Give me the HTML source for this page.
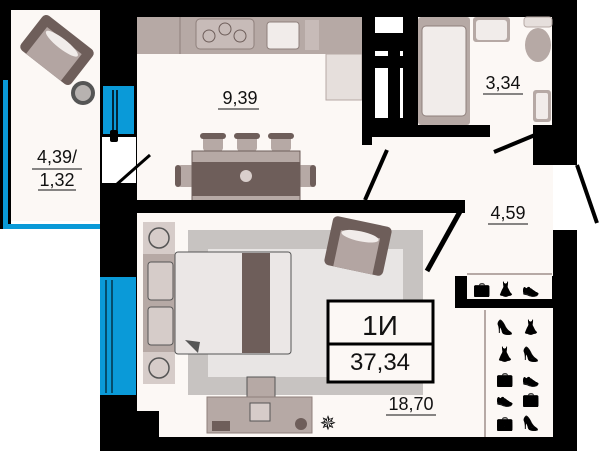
<!DOCTYPE html>
<html><head><meta charset="utf-8"><style>
html,body{margin:0;padding:0;background:#fff;}
svg{display:block}
text{font-family:"Liberation Sans",sans-serif;fill:#111}
.ic{filter:grayscale(1) brightness(0.35) contrast(2);}
</style></head><body>
<svg width="600" height="451" viewBox="0 0 600 451" xmlns="http://www.w3.org/2000/svg">
<rect width="600" height="451" fill="#fff"/>
<rect x="11" y="10" width="89" height="211" fill="#fcf8f5"/>
<rect x="137" y="17" width="416" height="420" fill="#fcf8f5"/>
<rect x="0" y="0" width="11" height="229" fill="#000"/>
<rect x="0" y="0" width="137" height="10" fill="#000"/>
<rect x="3" y="80" width="5" height="149" fill="#0a9ad8"/>
<rect x="3" y="224" width="100" height="5" fill="#0a9ad8"/>
<rect x="100" y="0" width="37" height="230" fill="#000"/>
<rect x="103" y="86" width="31" height="48" fill="#0a9ad8"/>
<line x1="113" y1="90" x2="113" y2="134" stroke="#000" stroke-width="1.5"/>
<line x1="117" y1="90" x2="117" y2="134" stroke="#000" stroke-width="1.5"/>
<rect x="102" y="137" width="34" height="46" fill="#fff"/>
<rect x="110" y="130" width="8" height="12" rx="2" fill="#000"/>
<line x1="116" y1="185" x2="150" y2="155" stroke="#000" stroke-width="3"/>
<g transform="translate(57,50) rotate(38)">
<rect x="-32" y="-22" width="64" height="44" rx="5" fill="#6e5e5a"/>
<rect x="-22" y="-12" width="44" height="34" fill="#b3a5a2"/>
<ellipse cx="0" cy="-8" rx="20" ry="5" fill="#f1ecea"/>
</g>
<circle cx="83" cy="93" r="12" fill="#555"/><circle cx="83" cy="93" r="8" fill="#b7b2b0"/>
<text x="57" y="163" font-size="18" text-anchor="middle">4,39/</text>
<line x1="32" y1="169" x2="82" y2="169" stroke="#111"/>
<text x="57" y="186" font-size="18" text-anchor="middle">1,32</text>
<line x1="38" y1="190" x2="76" y2="190" stroke="#111"/>
<rect x="137" y="0" width="440" height="17" fill="#000"/>
<rect x="552" y="0" width="25" height="165" fill="#000"/>
<rect x="137" y="17" width="225" height="37" fill="#b6a9a5"/>
<line x1="180" y1="17" x2="180" y2="54" stroke="#8f807c"/>
<rect x="196" y="19" width="58" height="30" rx="4" fill="#c7bbb8" stroke="#8f807c"/>
<circle cx="209" cy="36" r="6" fill="none" stroke="#6e5e5a"/><circle cx="225" cy="29" r="6" fill="none" stroke="#6e5e5a"/><circle cx="240" cy="36" r="6" fill="none" stroke="#6e5e5a"/>
<rect x="267" y="22" width="32" height="27" rx="3" fill="#f1ecea" stroke="#8f807c"/>
<rect x="305" y="20" width="14" height="30" fill="#c7bbb8"/>
<rect x="326" y="54" width="36" height="46" fill="#e6dfdc" stroke="#b6a9a5"/>
<rect x="203" y="135" width="20" height="16" rx="3" fill="#b6a9a5"/><rect x="200" y="133" width="26" height="6" rx="3" fill="#6e5e5a"/>
<rect x="237" y="135" width="20" height="16" rx="3" fill="#b6a9a5"/><rect x="234" y="133" width="26" height="6" rx="3" fill="#6e5e5a"/>
<rect x="271" y="135" width="20" height="16" rx="3" fill="#b6a9a5"/><rect x="268" y="133" width="26" height="6" rx="3" fill="#6e5e5a"/>
<rect x="178" y="165" width="16" height="22" rx="3" fill="#b6a9a5"/><rect x="175" y="165" width="6" height="22" rx="3" fill="#6e5e5a"/>
<rect x="298" y="165" width="16" height="22" rx="3" fill="#b6a9a5"/><rect x="310" y="165" width="6" height="22" rx="3" fill="#6e5e5a"/>
<rect x="192" y="151" width="108" height="50" fill="#b6a9a5" stroke="#6e5e5a"/>
<rect x="192" y="162" width="108" height="34" fill="#6e5e5a"/>
<circle cx="246" cy="176" r="6" fill="#d9cfcc"/>
<text x="240" y="104" font-size="18" text-anchor="middle">9,39</text>
<line x1="218" y1="109" x2="259" y2="109" stroke="#111"/>
<rect x="100" y="200" width="365" height="13" fill="#000"/>
<line x1="365" y1="200" x2="387" y2="150" stroke="#000" stroke-width="4"/>
<rect x="362" y="17" width="10" height="128" fill="#000"/>
<rect x="372" y="17" width="34" height="120" fill="#000"/>
<rect x="375" y="17" width="28" height="16" fill="#fff"/>
<rect x="375" y="51" width="13" height="5" fill="#fff"/><rect x="400" y="51" width="3" height="5" fill="#fff"/>
<rect x="375" y="68" width="13" height="50" fill="#fff"/><rect x="400" y="68" width="3" height="50" fill="#fff"/>
<rect x="406" y="17" width="12" height="120" fill="#000"/>
<rect x="362" y="125" width="128" height="12" fill="#000"/>
<rect x="533" y="125" width="20" height="40" fill="#000"/>
<line x1="494" y1="152" x2="535" y2="135" stroke="#000" stroke-width="4"/>
<line x1="577" y1="165" x2="597" y2="223" stroke="#000" stroke-width="4"/>
<rect x="418" y="17" width="52" height="108" rx="3" fill="#b6a9a5"/>
<rect x="422" y="26" width="44" height="90" rx="4" fill="#f1ecea" stroke="#8f807c"/>
<rect x="473" y="17" width="37" height="25" rx="3" fill="#b6a9a5"/><rect x="476" y="20" width="31" height="20" rx="3" fill="#f1ecea"/>
<rect x="524" y="17" width="28" height="10" rx="3" fill="#e6dfdc" stroke="#b6a9a5"/>
<ellipse cx="538" cy="45" rx="13" ry="17" fill="#b6a9a5"/>
<rect x="533" y="90" width="18" height="32" rx="3" fill="#b6a9a5"/><rect x="536" y="93" width="12" height="26" rx="2" fill="#f1ecea"/>
<text x="503" y="89" font-size="18" text-anchor="middle">3,34</text>
<line x1="483" y1="94" x2="523" y2="94" stroke="#111"/>
<text x="508" y="219" font-size="18" text-anchor="middle">4,59</text>
<line x1="488" y1="224" x2="528" y2="224" stroke="#111"/>
<rect x="100" y="213" width="37" height="238" fill="#000"/>
<rect x="100" y="277" width="36" height="118" fill="#0a9ad8"/>
<line x1="106" y1="280" x2="106" y2="393" stroke="#000" stroke-width="1"/>
<line x1="112" y1="280" x2="112" y2="393" stroke="#000" stroke-width="1"/>
<rect x="137" y="411" width="22" height="26" fill="#000"/>
<rect x="100" y="437" width="477" height="14" fill="#000"/>
<rect x="553" y="230" width="24" height="221" fill="#000"/>
<rect x="455" y="276" width="98" height="32" fill="#000"/>
<rect x="467" y="274" width="85" height="25" fill="#fcf8f5"/>
<line x1="467" y1="274" x2="552" y2="274" stroke="#b6a9a5" stroke-width="2"/>
<line x1="485" y1="310" x2="485" y2="437" stroke="#b6a9a5" stroke-width="2"/>
<line x1="427" y1="271" x2="462" y2="208" stroke="#000" stroke-width="5"/>
<rect x="188" y="230" width="235" height="165" fill="#c7c3c1"/>
<rect x="208" y="249" width="195" height="128" fill="#e8e5e4"/>
<rect x="143" y="222" width="32" height="162" fill="#b6a9a5"/>
<rect x="143" y="222" width="32" height="32" fill="#d6ccc9"/>
<rect x="143" y="352" width="32" height="32" fill="#d6ccc9"/>
<circle cx="159" cy="238" r="10" fill="none" stroke="#555" stroke-width="1.5"/>
<circle cx="159" cy="368" r="10" fill="none" stroke="#555" stroke-width="1.5"/>
<rect x="175" y="252" width="116" height="102" rx="3" fill="#ebe7e6" stroke="#555"/>
<rect x="148" y="262" width="25" height="38" rx="3" fill="#d6ccc9" stroke="#555"/>
<rect x="148" y="307" width="25" height="38" rx="3" fill="#d6ccc9" stroke="#555"/>
<rect x="242" y="253" width="28" height="100" fill="#6e5e5a"/>
<path d="M185 340 L200 342 L198 353 Z" fill="#555"/>
<g transform="translate(358,246) rotate(12)">
<rect x="-30" y="-25" width="60" height="50" rx="5" fill="#6e5e5a"/>
<rect x="-20" y="-12" width="40" height="37" fill="#b3a5a2"/>
<ellipse cx="0" cy="-10" rx="19" ry="5" fill="#f1ecea"/>
</g>
<rect x="247" y="377" width="28" height="20" fill="#b6a9a5" stroke="#555"/>
<rect x="207" y="397" width="105" height="36" fill="#b6a9a5" stroke="#8f807c"/>
<rect x="250" y="403" width="20" height="18" fill="#d6ccc9" stroke="#555"/>
<rect x="212" y="421" width="18" height="10" fill="#6e5e5a"/>
<circle cx="301" cy="424" r="6" fill="#6e5e5a"/>
<text x="328" y="430" font-size="20" text-anchor="middle" fill="#6e5e5a">✵</text>
<rect x="328" y="301" width="105" height="81" fill="#fcf8f5" stroke="#000" stroke-width="3"/>
<line x1="328" y1="344" x2="433" y2="344" stroke="#000" stroke-width="3"/>
<text x="380" y="335" font-size="28" text-anchor="middle">1И</text>
<text x="380" y="370" font-size="24" text-anchor="middle">37,34</text>
<text x="411" y="410" font-size="18" text-anchor="middle">18,70</text>
<line x1="386" y1="415" x2="436" y2="415" stroke="#111"/>
<g class="ic" font-size="14" text-anchor="middle">
<text x="482" y="294">💼</text><text x="506" y="294">👗</text><text x="531" y="294">👟</text>
<text x="505" y="332">👠</text><text x="531" y="332">👗</text>
<text x="505" y="359">👗</text><text x="531" y="359">👠</text>
<text x="505" y="384">💼</text><text x="531" y="384">👟</text>
<text x="505" y="404">👟</text><text x="531" y="404">💼</text>
<text x="505" y="428">💼</text><text x="531" y="428">👠</text>
</g>
</svg>
</body></html>
